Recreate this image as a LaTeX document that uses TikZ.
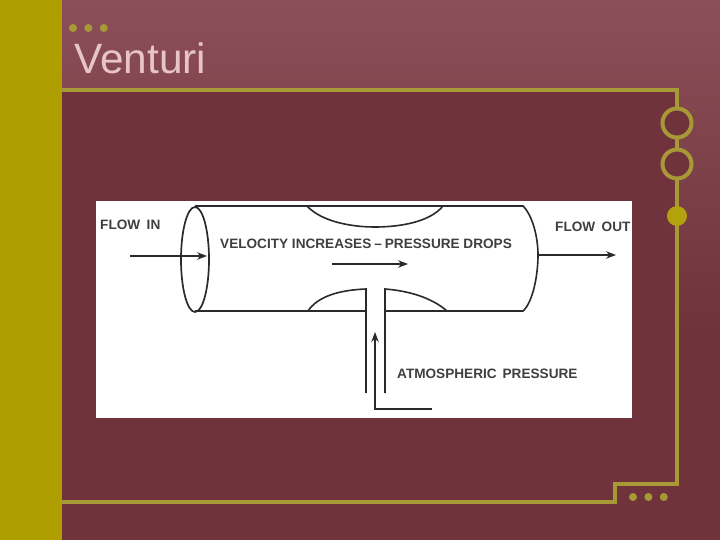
\documentclass[tikz,border=0pt]{standalone}
\usepackage{fontspec}
\setmainfont{Liberation Sans}
\usetikzlibrary{arrows.meta,positioning,shapes.geometric}
\definecolor{wine}{HTML}{70333B}
\definecolor{winelight}{HTML}{8C4E58}
\definecolor{gold}{HTML}{AE9E00}
\definecolor{rail}{HTML}{A79A36}
\definecolor{titlepink}{HTML}{E6C4C9}
\definecolor{ink}{HTML}{2A2A2A}

\begin{document}
\begin{tikzpicture}[x=1pt,y=-1pt,>={Stealth[length=10pt,width=7.5pt]},
  rail/.style={draw=rail,line width=4pt},
  ring/.style={circle,draw=rail,line width=4pt,fill=wine,minimum size=29pt,inner sep=0pt},
  dot/.style={circle,fill=rail,minimum size=8pt,inner sep=0pt},
  pipe/.style={draw=ink,line width=1.6pt},
  flow/.style={draw=ink,line width=1.5pt,->},
  caption/.style={text=ink!90!white,font=\fontsize{13.6}{15}\selectfont\bfseries,inner sep=0pt,anchor=west}]
  \useasboundingbox (0,0) rectangle (720,540);
  % background
  \fill[wine] (0,0) rectangle (720,540);
  \shade[top color=winelight,bottom color=wine] (62,0) rectangle (720,330);
  \fill[wine] (62,90) -| (677,484) -| (615,502) -| (62,90) -- cycle;
  \fill[wine] (0,502) rectangle (720,540);
  \fill[wine] (615,484) rectangle (720,540);
  \fill[gold] (0,0) rectangle (62,540);
  \path
  coordinate (frame_a) at (62,90)
  coordinate (frame_b) at (677,90)
  coordinate (frame_c) at (677,484)
  coordinate (frame_d) at (615,484)
  coordinate (frame_e) at (615,502)
  coordinate (frame_f) at (62,502)
  ;
  \draw[rail,line join=miter] (frame_a) -- (frame_b) -- (frame_c) -- (frame_d) -- (frame_e) -- (frame_f);
  \path
  node[ring] (ring_a) at (677,123) {}
  node[ring] (ring_b) at (677,164) {}
  node[circle,fill=gold!95!white,minimum size=20pt,inner sep=0pt] (knob) at (677,216) {}
  node[dot] (top_a) at (73,28) {}
  node[dot] (top_b) [right=7pt of top_a] {}
  node[dot] (top_c) [right=7pt of top_b] {}
  node[dot] (low_a) at (633,497) {}
  node[dot] (low_b) [right=7pt of low_a] {}
  node[dot] (low_c) [right=7pt of low_b] {}
  node[text=titlepink,font=\fontsize{42.4}{44}\selectfont,inner sep=0pt,anchor=base west] (title) at (74,74) {Venturi}
  ;
  % picture
  \fill[white] (96,201) rectangle (632,418);
  \path
  node[draw=ink,line width=1.7pt,ellipse,minimum width=28pt,minimum height=105pt,inner sep=0pt] (mouth) at (195,259.5) {}
  coordinate (top_l) at (195,206)
  coordinate (top_r) at (523,206)
  coordinate (bot_l) at (195,311)
  coordinate (bot_r) at (523,311)
  coordinate (end_m) at (538,255)
  coordinate (neck_a) at (307,206)
  coordinate (neck_b) at (443,206)
  coordinate (lip_a) at (308,311)
  coordinate (lip_b) at (366,289)
  coordinate (lip_c) at (385,289)
  coordinate (lip_d) at (447,311)
  coordinate (tube_a) at (366,393)
  coordinate (tube_b) at (385,393)
  coordinate (in_a) at (130,256)
  coordinate (in_b) at (207,256)
  coordinate (mid_a) at (332,264)
  coordinate (mid_b) at (408,264)
  coordinate (out_b) at (616,255)
  coordinate (air_a) at (432,409)
  coordinate (air_b) at (375,409)
  coordinate (air_c) at (375,332)
  ;
  \draw[pipe] (top_l) -- (top_r) .. controls (533,216) and (538,238) .. (end_m)
    .. controls (538,275) and (533,302) .. (bot_r) -- (lip_d);
  \draw[pipe] (neck_a) .. controls (322,222) and (352,227) .. (375,227) .. controls (400,227) and (430,222) .. (neck_b);
  \draw[pipe] (bot_l) -- (lip_a) .. controls (318,296) and (340,290) .. (lip_b) -- (tube_a);
  \draw[pipe] (lip_a) -- (lip_b |- lip_a);
  \draw[pipe] (tube_b) -- (lip_c) .. controls (410,291) and (432,298) .. (lip_d) -- (lip_c |- lip_d);
  \draw[flow] (in_a) -- (in_b);
  \draw[flow] (mid_a) -- (mid_b);
  \draw[flow] (end_m) -- (out_b);
  \draw[flow] (air_a) -- (air_b) -- (air_c);
  \path
  node[caption] (flow_in) at (100,224.5) {FLOW\hspace{6.5pt}IN}
  node[caption] (velocity) at (220,244) {VELOCITY INCREASES\hspace{3pt}–\hspace{3pt}PRESSURE DROPS}
  node[caption] (flow_out) at (555,227) {FLOW\hspace{6.5pt}OUT}
  node[caption] (air_label) at (397,374) {ATMOSPHERIC\hspace{6pt}PRESSURE}
  ;
\end{tikzpicture}
\end{document}
